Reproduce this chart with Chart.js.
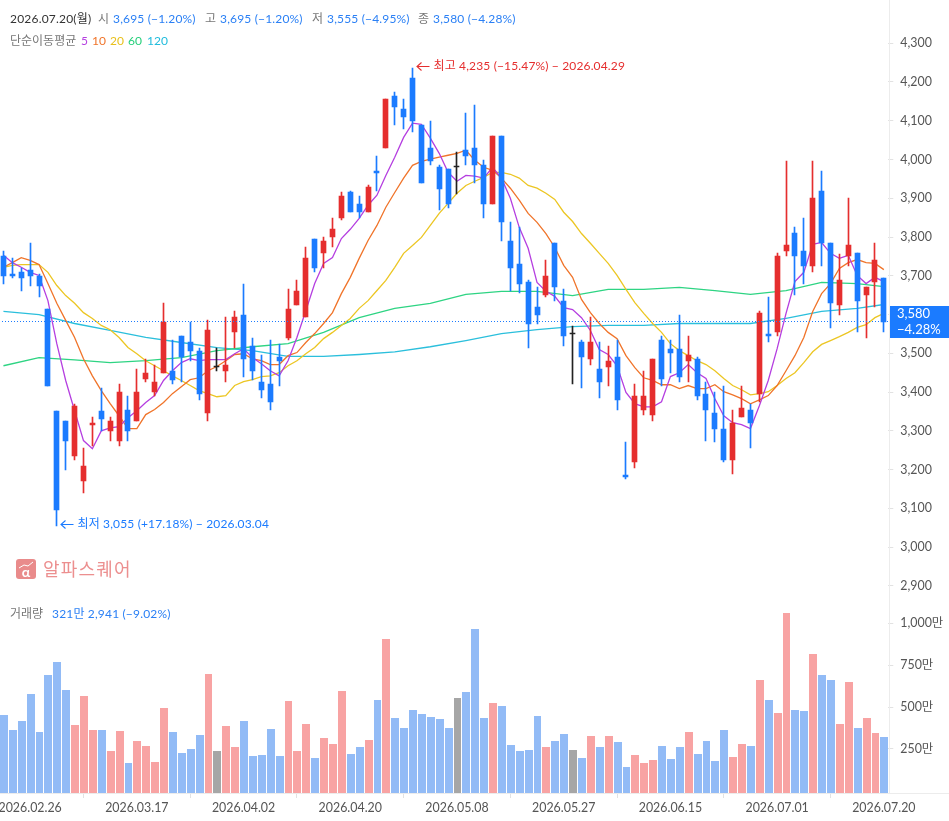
<!DOCTYPE html>
<html lang="ko">
<head>
  <meta charset="UTF-8">
  <title>주가 차트</title>
  <script src="https://cdn.jsdelivr.net/npm/chart.js"></script>
  <style>
    html, body { margin: 0; padding: 0; background: #fff; overflow: hidden; }
    body { width: 949px; height: 821px; position: relative; font-family: Lato, "Noto Sans CJK KR", sans-serif; font-size: 12px; }
    canvas { position: absolute; left: -1px; }
    .t { position: absolute; white-space: nowrap; line-height: 16px; }
    .dark { color: #333; letter-spacing: 0.2px; }
    .gray { color: #777; }
    .blue { color: #2b80f5; letter-spacing: 0.17px; }
    #lastBox { position: absolute; left: 890px; top: 306px; width: 59px; height: 32px; background: #1b7bff; color: #fff; font-size: 13px; line-height: 15.5px; padding-left: 7px; box-sizing: border-box; }
    #logo { position: absolute; left: 16px; top: 559px; width: 20px; height: 20px; border-radius: 3px; background: #e98b8b; }
    #logo svg { position: absolute; left: 0; top: 0; }
    #logo span { position: absolute; left: 0; right: 0; top: 6px; color: #fff; font-size: 14px; font-weight: bold; line-height: 14px; text-align: center; }
    #brand { position: absolute; left: 43px; top: 557px; font-size: 18px; line-height: 24px; color: #ec8f8f; letter-spacing: 1.2px; }
  </style>
</head>
<body>
  <canvas id="price" width="950" height="595" style="top:0"></canvas>
  <canvas id="volume" width="950" height="226" style="top:595px"></canvas>

  <span class="t dark" style="left:10px;top:11px">2026.07.20(월)</span>
  <span class="t gray" style="left:98px;top:11px">시</span>
  <span class="t blue" style="left:113px;top:11px">3,695 (−1.20%)</span>
  <span class="t gray" style="left:205px;top:11px">고</span>
  <span class="t blue" style="left:220px;top:11px">3,695 (−1.20%)</span>
  <span class="t gray" style="left:312px;top:11px">저</span>
  <span class="t blue" style="left:327px;top:11px">3,555 (−4.95%)</span>
  <span class="t gray" style="left:418px;top:11px">종</span>
  <span class="t blue" style="left:433px;top:11px">3,580 (−4.28%)</span>

  <span class="t gray" style="left:10px;top:33px">단순이동평균</span>
  <span class="t" style="left:81px;top:33px;color:#b53fe0">5</span>
  <span class="t" style="left:92px;top:33px;color:#f0742a">10</span>
  <span class="t" style="left:110px;top:33px;color:#e8c01c">20</span>
  <span class="t" style="left:128px;top:33px;color:#25cf7a">60</span>
  <span class="t" style="left:147px;top:33px;color:#20bcdc">120</span>

  <div id="logo">
    <svg width="20" height="20"><polyline points="3,9 8,6 12,7 17,3" fill="none" stroke="#fff" stroke-width="1"/></svg>
    <span>α</span>
  </div>
  <div id="brand">알파스퀘어</div>

  <span class="t gray" style="left:10px;top:606px">거래량</span>
  <span class="t blue" style="left:52px;top:606px">321만 2,941 (−9.02%)</span>

  <div id="lastBox">3,580<br>−4.28%</div>

  <script>
    const opens = [3750,3705,3710,3715,3700,3615,3350,3325,3235,3170,
      3315,3350,3300,3275,3355,3325,3435,3400,3450,3455,
      3545,3530,3505,3345,3465,3455,3555,3600,3520,3425,
      3420,3490,3540,3625,3595,3795,3760,3800,3850,3915,
      3885,3865,3970,4030,4165,4130,4210,4090,4030,3980,
      3975,3980,4025,4030,3985,3885,4060,3790,3730,3685,
      3620,3650,3785,3635,3550,3530,3485,3460,3465,3490,
      3185,3220,3355,3340,3535,3510,3510,3480,3485,3395,
      3345,3305,3225,3335,3355,3395,3550,3555,3765,3810,
      3765,3725,3920,3785,3625,3750,3760,3650,3685,3695];
    const highs = [3765,3745,3720,3785,3705,3615,3350,3325,3370,3255,
      3335,3410,3335,3420,3390,3460,3485,3470,3630,3535,
      3545,3580,3515,3585,3515,3595,3610,3680,3540,3495,
      3535,3525,3665,3690,3775,3795,3800,3850,3915,3920,
      3905,3935,4010,4155,4175,4155,4235,4090,4100,3985,
      3975,4020,4120,4140,4000,4060,4060,3840,3825,3690,
      3670,3740,3785,3665,3570,3535,3595,3530,3520,3535,
      3270,3420,3455,3485,3545,3535,3600,3545,3490,3425,
      3400,3415,3355,3415,3370,3610,3645,3760,3995,3825,
      3850,3995,3970,3785,3755,3900,3760,3670,3785,3695];
    const lows = [3680,3695,3660,3675,3645,3415,3055,3200,3225,3140,
      3260,3300,3275,3260,3275,3325,3425,3390,3450,3420,
      3425,3480,3380,3325,3455,3425,3515,3440,3430,3385,
      3355,3415,3535,3625,3595,3710,3720,3775,3845,3865,
      3850,3865,3920,4030,4090,4080,4070,3940,3985,3870,
      3875,3910,3985,3940,3850,3885,3790,3660,3655,3515,
      3575,3645,3635,3520,3420,3410,3470,3385,3415,3355,
      3175,3205,3340,3325,3415,3450,3425,3425,3380,3275,
      3270,3220,3190,3335,3255,3375,3530,3545,3750,3650,
      3680,3710,3725,3565,3600,3725,3555,3540,3620,3555];
    const closes = [3700,3700,3695,3700,3675,3415,3095,3275,3365,3210,
      3320,3330,3325,3400,3300,3400,3450,3425,3580,3430,
      3490,3505,3395,3560,3465,3470,3595,3485,3455,3405,
      3375,3480,3615,3660,3745,3720,3790,3820,3905,3865,
      3865,3930,3965,4155,4135,4110,4100,3940,3995,3925,
      3885,3980,4010,3985,3885,4060,3840,3720,3680,3575,
      3600,3700,3670,3545,3550,3490,3530,3425,3480,3380,
      3180,3390,3390,3485,3435,3500,3440,3495,3390,3355,
      3305,3225,3320,3360,3320,3605,3545,3750,3780,3750,
      3725,3900,3785,3630,3690,3780,3635,3670,3740,3580];

    const ma5 = [3753,3734,3722,3709,3701,3636,3525,3430,3352,3275,
      3254,3300,3308,3311,3334,3352,3373,3391,3430,3455,
      3476,3486,3481,3484,3484,3484,3499,3512,3489,3473,
      3455,3442,3481,3541,3610,3680,3732,3747,3796,3820,
      3848,3882,3908,3959,4006,4057,4094,4091,4055,4016,
      3967,3944,3959,3957,3952,3980,3952,3900,3825,3771,
      3683,3660,3647,3618,3613,3592,3559,3510,3497,3468,
      3399,3370,3362,3362,3375,3440,3450,3471,3450,3435,
      3383,3339,3321,3316,3306,3365,3430,3512,3603,3685,
      3709,3781,3786,3758,3745,3753,3701,3680,3696,3685];
    const ma10 = [3722,3734,3747,3740,3729,3680,3629,3585,3541,3486,
      3442,3404,3370,3339,3306,3306,3342,3355,3373,3396,
      3414,3432,3437,3455,3466,3481,3497,3499,3486,3481,
      3471,3471,3494,3502,3528,3551,3577,3605,3654,3696,
      3745,3791,3830,3877,3915,3952,3985,3995,4001,4006,
      4011,4016,4024,3998,3980,3972,3952,3926,3895,3861,
      3838,3809,3773,3727,3696,3639,3605,3577,3554,3538,
      3494,3463,3437,3430,3419,3419,3409,3417,3409,3409,
      3419,3401,3393,3383,3370,3380,3391,3417,3455,3494,
      3541,3608,3654,3680,3719,3734,3742,3734,3732,3716];
    const ma20 = [3722,3727,3729,3729,3729,3709,3675,3649,3629,3605,
      3590,3572,3561,3541,3515,3499,3481,3468,3455,3442,
      3430,3417,3404,3396,3388,3391,3417,3427,3432,3440,
      3442,3450,3468,3481,3499,3515,3538,3554,3572,3590,
      3616,3636,3662,3688,3722,3758,3778,3799,3830,3861,
      3887,3913,3933,3944,3954,3967,3967,3962,3952,3933,
      3926,3913,3897,3864,3840,3809,3784,3758,3732,3701,
      3665,3631,3603,3577,3554,3525,3507,3494,3481,3471,
      3455,3435,3417,3406,3393,3396,3401,3417,3435,3450,
      3476,3504,3523,3533,3543,3554,3567,3574,3592,3603];
    // the long averages move slowly, so they are kept at every fourth bar
    const slowBars = [0,4,8,12,16,20,24,28,32,36,40,44,48,52,56,60,64,68,72,76,80,84,88,92,96,99];
    const ma60 = [3468,3489,3483,3476,3481,3489,3507,3517,3525,3554,3592,3616,3629,3652,3660,3660,3649,3665,3665,3670,3662,3652,3662,3683,3680,3672];
    const ma120 = [3608,3600,3577,3559,3541,3528,3515,3507,3492,3492,3497,3504,3517,3533,3551,3561,3569,3572,3572,3577,3577,3577,3590,3608,3616,3626];

    // volume in units of 만 (10,000 shares)
    const volumes = [453,363,417,578,351,692,769,602,393,566,
      363,363,238,357,166,298,268,172,495,351,
      226,250,333,698,238,387,262,417,208,214,
      369,208,536,238,399,196,316,280,596,220,
      262,304,542,906,435,375,483,459,441,429,
      375,554,590,966,435,524,507,274,238,244,
      447,262,298,340,244,196,328,262,328,292,
      143,214,166,184,268,190,262,351,220,298,
      178,363,202,280,268,662,542,465,1062,483,
      477,817,692,662,399,650,375,435,345,321.2941];

    const priceTicks = [2900,3000,3100,3200,3300,3400,3500,3600,3700,3800,3900,4000,4100,4200,4300];
    const volumeTicks = [250,500,750,1000];
    const tickBars = [3,15,27,39,51,63,75,87,99];
    const tickDates = ['2026.02.26','2026.03.17','2026.04.02','2026.04.20','2026.05.08','2026.05.27','2026.06.15','2026.07.01','2026.07.20'];
    const lastClose = 3580;
    const highBar = 46, lowBar = 6;
    const highNote = '최고 4,235 (−15.47%) − 2026.04.29';
    const lowNote = '최저 3,055 (+17.18%) − 2026.03.04';

    const FONT = 'Lato, "Noto Sans CJK KR", sans-serif';
    const UP = '#e52e2e', DOWN = '#1b7bff', FLAT = '#222';
    const UP_VOL = '#f8a3a3', DOWN_VOL = '#92bbf6', FLAT_VOL = '#a6a6a6';
    const AXIS_LINE = '#ececec';
    const AXIS_W = 60.7;

    const bars = opens.map((_, i) => i);
    const candleColor = bars.map(i => closes[i] > opens[i] ? UP : closes[i] < opens[i] ? DOWN : FLAT);
    const volumeColor = bars.map(i => closes[i] > opens[i] ? UP_VOL : closes[i] < opens[i] ? DOWN_VOL : FLAT_VOL);

    function maLine(label, data, color) {
      return { type: 'line', label, data, borderColor: color, borderWidth: 1.3, pointRadius: 0, tension: 0, order: 5 };
    }
    function slowLine(label, values, color) {
      return maLine(label, slowBars.map((b, n) => ({ x: b, y: values[n] })), color);
    }
    function pinAxis(scale) {
      scale.width = AXIS_W;
      scale.paddingTop = 0;
      scale.paddingBottom = 0;
    }

    // keeps wicks and bodies on whole pixels so they stay crisp
    const snapCandles = {
      id: 'snapCandles',
      beforeDatasetsDraw(chart) {
        chart.data.datasets.forEach((ds, d) => {
          if (ds.type === 'line') return;
          chart.getDatasetMeta(d).data.forEach(el => {
            el.x = Math.floor(el.x) + 0.5;
            el.y = Math.round(el.y);
            el.base = Math.round(el.base);
            if (el.y === el.base) el.base = el.y + 1;
          });
        });
      }
    };

    const priceOverlay = {
      id: 'priceOverlay',
      afterDatasetsDraw(chart) {
        const { ctx, chartArea, scales } = chart;
        const meta = chart.getDatasetMeta(0);
        // dotted line at the last close
        const ly = Math.round(scales.y.getPixelForValue(lastClose)) - 0.5;
        ctx.save();
        ctx.strokeStyle = DOWN;
        ctx.lineWidth = 1;
        ctx.setLineDash([1, 2]);
        ctx.beginPath();
        ctx.moveTo(chartArea.left, ly);
        ctx.lineTo(chartArea.right, ly);
        ctx.stroke();
        ctx.setLineDash([]);

        // highest and lowest price notes
        ctx.font = '12px ' + FONT;
        ctx.letterSpacing = '0.15px';
        ctx.textBaseline = 'middle';
        [[highBar, highs[highBar], highNote, UP], [lowBar, lows[lowBar], lowNote, DOWN]].forEach(([b, v, text, color]) => {
          const x = meta.data[b].x, y = Math.round(scales.y.getPixelForValue(v)) - 1.5;
          ctx.strokeStyle = color;
          ctx.fillStyle = color;
          ctx.lineWidth = 1.1;
          ctx.beginPath();
          ctx.moveTo(x + 17, y);
          ctx.lineTo(x + 4.5, y);
          ctx.moveTo(x + 9, y - 4);
          ctx.lineTo(x + 4.5, y);
          ctx.lineTo(x + 9, y + 4);
          ctx.stroke();
          ctx.fillText(text, x + 21, y);
        });
        ctx.restore();
      },
      afterDraw(chart) {
        const { ctx, chartArea } = chart;
        ctx.save();
        ctx.fillStyle = AXIS_LINE;
        ctx.fillRect(Math.round(chartArea.right) + 1, 0, 1, chart.height);
        ctx.fillRect(0, chartArea.bottom, chart.width, 1);
        ctx.restore();
      }
    };

    new Chart(document.getElementById('price'), {
      type: 'bar',
      plugins: [snapCandles, priceOverlay],
      data: {
        labels: bars,
        datasets: [
          { label: '고저', data: bars.map(i => [lows[i], highs[i]]), backgroundColor: candleColor, barThickness: 1, grouped: false, order: 2 },
          { label: '시종', data: bars.map(i => [opens[i], closes[i]]), backgroundColor: candleColor, barThickness: 5, grouped: false, minBarLength: 1, order: 1 },
          maLine('5', ma5, '#b53fe0'),
          maLine('10', ma10, '#f0742a'),
          maLine('20', ma20, '#ecc623'),
          slowLine('60', ma60, '#2ed483'),
          slowLine('120', ma120, '#2bbfdc')
        ]
      },
      options: {
        responsive: false,
        animation: false,
        events: [],
        layout: { padding: 0 },
        plugins: { legend: { display: false }, tooltip: { enabled: false } },
        scales: {
          x: { display: false, offset: true, afterFit: pinAxis },
          y: {
            position: 'right',
            min: 2876.6,
            max: 4411.5,
            afterBuildTicks(scale) { scale.ticks = priceTicks.map(value => ({ value })); },
            afterFit: pinAxis,
            border: { display: false },
            grid: { drawOnChartArea: false, tickLength: 5, color: '#e2e2e2' },
            ticks: {
              color: '#555',
              padding: 7,
              font: { family: FONT, size: 12.4 },
              callback: v => v.toLocaleString('en-US')
            }
          }
        }
      }
    });

    // volume bars leave one pixel between neighbours, wherever the slot edge falls
    const snapVolume = {
      id: 'snapVolume',
      beforeDatasetsDraw(chart) {
        const slot = chart.scales.x.width / bars.length;
        chart.getDatasetMeta(0).data.forEach(el => {
          const left = Math.round(el.x - slot / 2) + 1;
          const right = Math.round(el.x + slot / 2);
          el.x = (left + right) / 2;
          el.width = right - left;
          el.y = Math.round(el.y);
        });
      },
      afterDraw(chart) {
        const { ctx, chartArea } = chart;
        ctx.save();
        ctx.fillStyle = AXIS_LINE;
        ctx.fillRect(Math.round(chartArea.right) + 1, 0, 1, chartArea.bottom);
        ctx.fillRect(0, chartArea.bottom, chart.width, 1);
        ctx.restore();
      }
    };

    new Chart(document.getElementById('volume'), {
      type: 'bar',
      plugins: [snapVolume],
      data: {
        labels: bars,
        datasets: [{ label: '거래량', data: volumes, backgroundColor: volumeColor, base: -12.6, barPercentage: 1, categoryPercentage: 0.9 }]
      },
      options: {
        responsive: false,
        animation: false,
        events: [],
        layout: { padding: 0 },
        plugins: { legend: { display: false }, tooltip: { enabled: false } },
        scales: {
          x: {
            offset: true,
            afterBuildTicks(scale) { scale.ticks = tickBars.map(value => ({ value })); },
            afterFit(scale) { scale.height = 28; scale.paddingLeft = 0; scale.paddingRight = 0; },
            border: { display: false },
            grid: { drawOnChartArea: false, tickLength: 5, color: '#e2e2e2' },
            ticks: {
              autoSkip: false,
              maxRotation: 0,
              padding: 3,
              color: '#555',
              font: { family: FONT, size: 12.4 },
              callback: v => tickDates[tickBars.indexOf(v)]
            }
          },
          y: {
            position: 'right',
            min: -12.6,
            max: 1168.9,
            afterBuildTicks(scale) { scale.ticks = volumeTicks.map(value => ({ value })); },
            afterFit: pinAxis,
            border: { display: false },
            grid: { drawOnChartArea: false, tickLength: 5, color: '#e2e2e2' },
            ticks: {
              color: '#555',
              padding: 7,
              font: { family: FONT, size: 12.4 },
              callback: v => v.toLocaleString('en-US') + '만'
            }
          }
        }
      }
    });
  </script>
</body>
</html>
